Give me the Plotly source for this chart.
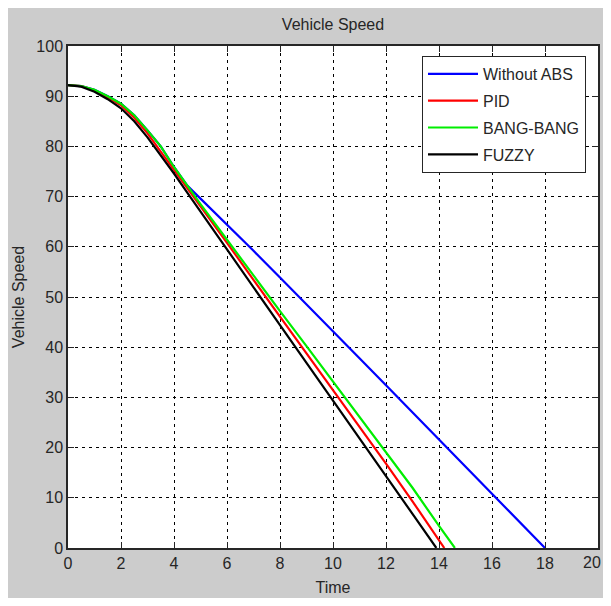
import plotly.graph_objects as go

# Speed values for each controller
t_blue = [0, 0.5, 1, 1.5, 2, 2.5, 3, 3.5, 4, 4.5, 5, 6, 7, 8, 9, 10, 11, 12, 13, 14, 15, 16, 17, 18]
v_blue = [92.2, 92.0, 91.3, 90.0, 88.5, 86.2, 83.2, 80.0, 75.9, 72.2, 69.6, 64.5, 59.2, 53.9, 48.6, 43.2, 37.8, 32.4, 27.0, 21.6, 16.2, 10.8, 5.4, 0]

t_pid = [0, 0.5, 1, 1.5, 2, 2.5, 3, 3.5, 4, 4.5, 5, 6, 7, 8, 9, 10, 11, 12, 13, 14, 14.2]
v_pid = [92.2, 92.0, 91.2, 89.8, 88.2, 85.7, 82.6, 79.0, 75.3, 71.6, 68.1, 60.8, 53.4, 46.1, 38.8, 31.6, 24.2, 16.8, 9.3, 1.5, 0]

t_bang = [0, 0.5, 1, 1.5, 2, 2.5, 3, 3.5, 4, 4.5, 5, 6, 7, 8, 9, 10, 11, 12, 13, 14, 14.6]
v_bang = [92.2, 92.0, 91.3, 90.0, 88.5, 86.2, 83.2, 80.0, 75.9, 72.2, 68.5, 61.4, 54.2, 47.2, 40.2, 33.2, 26.2, 19.2, 12.0, 4.4, 0]

t_fuzzy = [0, 0.5, 1, 1.5, 2, 2.5, 3, 3.5, 4, 4.5, 5, 6, 7, 8, 9, 10, 11, 12, 13, 13.9]
v_fuzzy = [92.2, 91.9, 90.9, 89.4, 87.6, 85.0, 81.8, 78.3, 74.6, 70.8, 67.0, 59.5, 51.9, 44.4, 36.9, 29.3, 21.8, 14.3, 6.8, 0]

x_ticks = [0, 2, 4, 6, 8, 10, 12, 14, 16, 18, 20]
x_tick_labels = ["0", "2", "4", "6", "8", "10", "12", "14", "16", "18", ""]
last_x_label = "20"  # drawn right-aligned at the axis end so it stays inside the page
y_ticks = [0, 10, 20, 30, 40, 50, 60, 70, 80, 90, 100]

FONT = "Liberation Sans, Arial, sans-serif"
TXT = "#262626"
LW = 2.2

fig = go.Figure()
fig.add_trace(go.Scatter(x=t_blue, y=v_blue, mode="lines", name="Without ABS",
                         legendgroup="a", line=dict(color="#0000ff", width=LW)))
fig.add_trace(go.Scatter(x=t_pid, y=v_pid, mode="lines", name="PID",
                         legendgroup="b", line=dict(color="#ff0000", width=LW)))
fig.add_trace(go.Scatter(x=t_bang, y=v_bang, mode="lines", name="BANG-BANG",
                         legendgroup="c", line=dict(color="#00ee00", width=LW)))
fig.add_trace(go.Scatter(x=t_fuzzy, y=v_fuzzy, mode="lines", name="FUZZY",
                         legendgroup="d", line=dict(color="#000000", width=LW)))

# The page adds an 8px body margin, so layout pixels are screen pixels minus 8.
OFF = 8
W, H = 603, 590
L, R, T, B = 68 - OFF, 598 - OFF, 46 - OFF, 548 - OFF
pw, ph = R - L, B - T


def px2x(p):
    return (p - OFF - L) / pw


def py2y(p):
    return (B - (p - OFF)) / ph


axis_common = dict(
    showgrid=True, gridcolor="#000000", gridwidth=1, griddash="3px,4px",
    showline=True, linecolor=TXT, linewidth=1.5, mirror="ticks",
    ticks="inside", ticklen=6, tickcolor=TXT, tickwidth=1,
    zeroline=False, automargin=False, ticklabeloverflow="allow",
    tickfont=dict(family=FONT, size=16, color=TXT),
)

fig.update_layout(
    width=W, height=H,
    margin=dict(l=L, r=W - R, t=T, b=H - B),
    paper_bgcolor="#cccccc", plot_bgcolor="#ffffff",
    title=dict(text="Vehicle Speed", x=(0.5 * (68 + 598) - OFF) / W, xanchor="center",
               y=1 - (24 - OFF) / H, yanchor="middle",
               font=dict(family=FONT, size=16, color=TXT)),
    xaxis=dict(range=[0, 20], tickvals=x_ticks, ticktext=x_tick_labels,
               title=dict(text="Time", font=dict(family=FONT, size=16, color=TXT), standoff=11),
               **axis_common),
    yaxis=dict(range=[0, 100], tickvals=y_ticks,
               title=dict(text="Vehicle Speed", font=dict(family=FONT, size=16, color=TXT), standoff=8),
               **axis_common),
    legend=dict(x=px2x(586), y=py2y(56), xanchor="right", yanchor="top",
                bgcolor="#ffffff", bordercolor=TXT, borderwidth=1,
                font=dict(family=FONT, size=16, color=TXT),
                itemwidth=50, tracegroupgap=3, traceorder="grouped"),
    annotations=[dict(text=last_x_label, xref="x", x=x_ticks[-1], yref="paper", y=0,
                      xanchor="right", yanchor="middle", yshift=-14, xshift=5,
                      showarrow=False, font=dict(family=FONT, size=16, color=TXT))],
    showlegend=True,
)

fig.write_html("out.html")
